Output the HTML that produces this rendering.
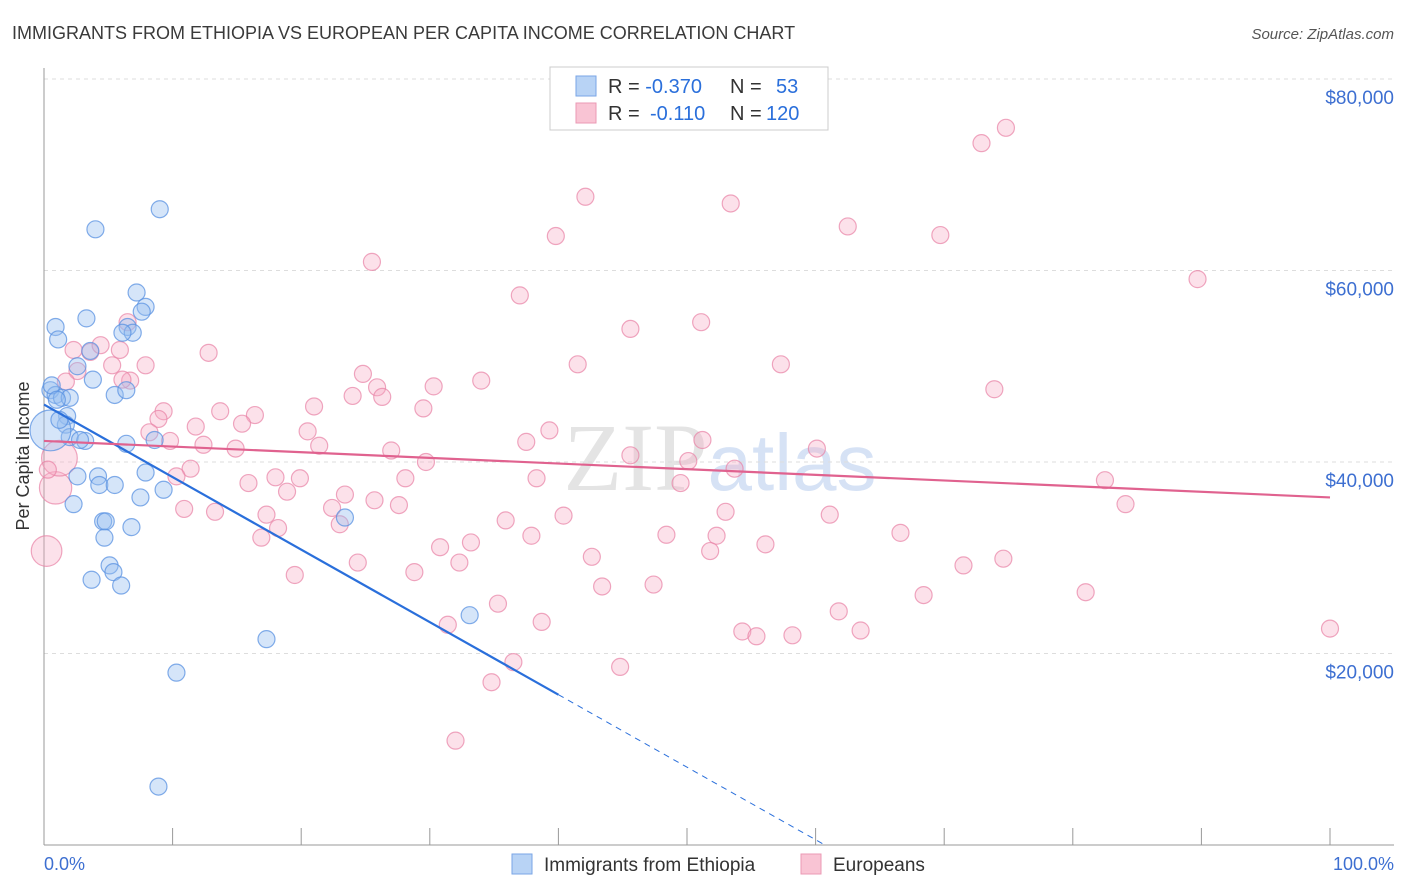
<!DOCTYPE html>
<html><head><meta charset="utf-8"><style>
body{margin:0;background:#fff;font-family:"Liberation Sans",sans-serif;}
svg{display:block}
</style></head><body>
<svg id="chart" width="1406" height="892" xmlns="http://www.w3.org/2000/svg">
<text x="12" y="39" font-size="18" fill="#3a3a3a">IMMIGRANTS FROM ETHIOPIA VS EUROPEAN PER CAPITA INCOME CORRELATION CHART</text>
<text x="1394" y="39" font-size="15" fill="#555" font-style="italic" text-anchor="end">Source: ZipAtlas.com</text>
<text x="720" y="490" font-size="96" fill="#e4e4e4" text-anchor="middle" font-family="Liberation Serif">ZIP<tspan fill="#d6e2f5" font-family="Liberation Sans" font-size="80">atlas</tspan></text>
<g id="grid"></g>
<line x1="44" y1="68" x2="44" y2="845" stroke="#999"/>
<line x1="44" y1="845" x2="1394" y2="845" stroke="#999"/>
<g id="xticks"></g>
<text x="29" y="456" font-size="18" fill="#333" text-anchor="middle" transform="rotate(-90 29 456)">Per Capita Income</text>
<text x="44" y="870" font-size="18" fill="#3d6fd1">0.0%</text>
<text x="1394" y="870" font-size="18" fill="#3d6fd1" text-anchor="end">100.0%</text>
<g id="pts"></g>
<g id="lines"></g>
<g>
<rect x="550" y="67" width="278" height="63" fill="#fff" stroke="#ccc"/>
<rect x="576" y="76" width="20" height="20" fill="#b8d3f5" stroke="#7aa6e6"/>
<rect x="576" y="103" width="20" height="20" fill="#f9c4d4" stroke="#eb9ab4"/>
<text x="608" y="93" font-size="20" fill="#333">R = <tspan fill="#2a6fdb">-0.370</tspan><tspan x="730">N = </tspan><tspan x="776" fill="#2a6fdb">53</tspan></text>
<text x="608" y="120" font-size="20" fill="#333">R = <tspan x="650" fill="#2a6fdb">-0.110</tspan><tspan x="730">N = </tspan><tspan x="766" fill="#2a6fdb">120</tspan></text>
</g>
<g>
<rect x="512" y="854" width="20" height="20" fill="#b8d3f5" stroke="#7aa6e6"/>
<text x="544" y="871" font-size="19" fill="#333">Immigrants from Ethiopia</text>
<rect x="801" y="854" width="20" height="20" fill="#f9c4d4" stroke="#eb9ab4"/>
<text x="833" y="871" font-size="19" fill="#333">Europeans</text>
</g>
</svg>
<script>
const yTicks=[20000,40000,60000,80000];
const yTickLabels=["$20,000","$40,000","$60,000","$80,000"];
const xTicks=[0,10,20,30,40,50,60,70,80,90,100];
const blueX=[9.0,4.0,7.2,7.9,7.6,3.3,0.9,6.5,6.9,6.1,1.1,3.6,2.6,3.8,0.5,0.9,1.4,2.0,5.5,6.4,1.8,1.7,2.0,3.2,6.4,8.6,2.6,4.2,7.9,4.3,5.5,9.3,7.5,2.3,4.6,4.8,6.8,23.4,4.7,5.1,5.4,3.7,6.0,33.1,17.3,10.3,8.9,0.5,1.2,0.6,2.8,1.0];
const blueY=[66.4,64.3,57.7,56.2,55.7,55.0,54.1,54.1,53.5,53.5,52.8,51.6,50.0,48.6,47.5,47.0,46.7,46.7,47.0,47.5,44.8,43.9,42.6,42.2,41.9,42.3,38.5,38.5,38.9,37.6,37.6,37.1,36.3,35.6,33.8,33.8,33.2,34.2,32.1,29.2,28.5,27.7,27.1,24.0,21.5,18.0,6.1,43.3,44.4,48.0,42.3,46.5];
const blueSize=[1,1,1,1,1,1,1,1,1,1,1,1,1,1,1,1,1,1,1,1,1,1,1,1,1,1,1,1,1,1,1,1,1,1,1,1,1,1,1,1,1,1,1,1,1,1,1,2.4,1,1,1,1];
const pinkX=[74.8,72.9,42.1,53.4,62.5,39.8,69.7,25.5,89.7,37.0,45.6,51.1,6.5,3.6,5.9,5.3,7.9,12.8,41.5,57.3,24.8,2.6,6.7,6.1,25.9,30.3,34.0,73.9,24.0,26.3,21.0,29.5,9.3,13.7,16.4,8.9,15.4,11.8,8.2,20.5,39.3,9.8,12.4,14.9,21.4,37.5,51.2,60.1,27.0,45.6,50.1,29.7,53.7,38.3,28.1,19.9,18.0,11.4,10.3,15.9,49.5,18.9,23.4,25.7,82.5,84.1,10.9,13.3,22.4,27.6,17.3,53.0,61.1,35.9,40.4,18.2,23.0,16.9,48.4,52.3,66.6,37.9,33.2,30.8,56.1,51.8,42.6,74.6,24.4,32.3,71.5,19.5,28.8,43.4,47.4,68.4,81.0,35.3,61.8,31.4,38.7,63.5,54.3,55.4,58.2,100.0,36.5,44.8,34.8,32.0,0.2,0.9,1.2,0.3,1.7,4.4,2.3];
const pinkY=[74.9,73.3,67.7,67.0,64.6,63.6,63.7,60.9,59.1,57.4,53.9,54.6,54.6,51.5,51.7,50.1,50.1,51.4,50.2,50.2,49.2,49.5,48.5,48.6,47.8,47.9,48.5,47.6,46.9,46.8,45.8,45.6,45.3,45.3,44.9,44.5,44.0,43.7,43.1,43.2,43.3,42.2,41.8,41.4,41.7,42.1,42.3,41.4,41.2,40.7,40.1,40.0,39.3,38.3,38.3,38.3,38.4,39.3,38.5,37.8,37.8,36.9,36.6,36.0,38.1,35.6,35.1,34.8,35.2,35.5,34.5,34.8,34.5,33.9,34.4,33.1,33.5,32.1,32.4,32.3,32.6,32.3,31.6,31.1,31.4,30.7,30.1,29.9,29.5,29.5,29.2,28.2,28.5,27.0,27.2,26.1,26.4,25.2,24.4,23.0,23.3,22.4,22.3,21.8,21.9,22.6,19.1,18.6,17.0,10.9,30.7,37.3,40.4,39.2,48.4,52.2,51.7];
const pinkBig={110:1.8,111:1.9,112:2.1};
const blueTrend=[46.0,-0.7575];
const pinkTrend=[42.2,-0.059];
const NS="http://www.w3.org/2000/svg";
const X0=44,X1=1330,Y0=845,PX_PER_K=191.5/20;
function sx(v){return X0+(X1-X0)*v/100;}
function sy(k){return Y0-k*PX_PER_K;}
function mk(t,a){const e=document.createElementNS(NS,t);for(const k in a)e.setAttribute(k,a[k]);return e;}
const grid=document.getElementById('grid');
yTicks.forEach((v,i)=>{
 const y=sy(v/1000);
 const l=mk('line',{x1:44,x2:1394,y1:y,y2:y,stroke:'#ddd','stroke-dasharray':'4,4'});
 
 
 grid.appendChild(l);
 const t=mk('text',{x:1394,y:y+25,'font-size':19,fill:'#3d6fd1','text-anchor':'end'});
 t.textContent=yTickLabels[i];
 
 
 grid.appendChild(t);
});
const tl=mk('line',{x1:44,x2:1394,y1:79,y2:79,stroke:'#ddd','stroke-dasharray':'4,4'});


grid.appendChild(tl);
const xt=document.getElementById('xticks');
xTicks.forEach(v=>{
 const l=mk('line',{x1:sx(v),x2:sx(v),y1:828,y2:845,stroke:'#999'});
 
 
 xt.appendChild(l);
});
const pts=document.getElementById('pts');
pinkX.forEach((x,i)=>{
 const r=8.5*(pinkBig[i]||1);
 const c=mk('circle',{cx:sx(x),cy:sy(pinkY[i]),r:r,fill:'rgba(245,170,195,0.35)',stroke:'rgba(232,130,165,0.7)','stroke-width':1.2});
 
 
 pts.appendChild(c);
});
blueX.forEach((x,i)=>{
 const c=mk('circle',{cx:sx(x),cy:sy(blueY[i]),r:8.5*blueSize[i],fill:'rgba(150,190,240,0.4)',stroke:'rgba(90,145,225,0.75)','stroke-width':1.2});
 
 
 pts.appendChild(c);
});
const lines=document.getElementById('lines');
const bEnd=40, bZero=-blueTrend[0]/blueTrend[1];
const b1=mk('line',{x1:sx(0),y1:sy(blueTrend[0]),x2:sx(bEnd),y2:sy(blueTrend[0]+blueTrend[1]*bEnd),stroke:'#2a6fdb','stroke-width':2.2});


lines.appendChild(b1);
const b2=mk('line',{x1:sx(bEnd),y1:sy(blueTrend[0]+blueTrend[1]*bEnd),x2:sx(bZero),y2:sy(0),stroke:'#2a6fdb','stroke-width':1,'stroke-dasharray':'6,5'});


lines.appendChild(b2);
const p1=mk('line',{x1:sx(0),y1:sy(pinkTrend[0]),x2:sx(100),y2:sy(pinkTrend[0]+pinkTrend[1]*100),stroke:'#e0628f','stroke-width':2.2});


lines.appendChild(p1);
</script>
</body></html>
